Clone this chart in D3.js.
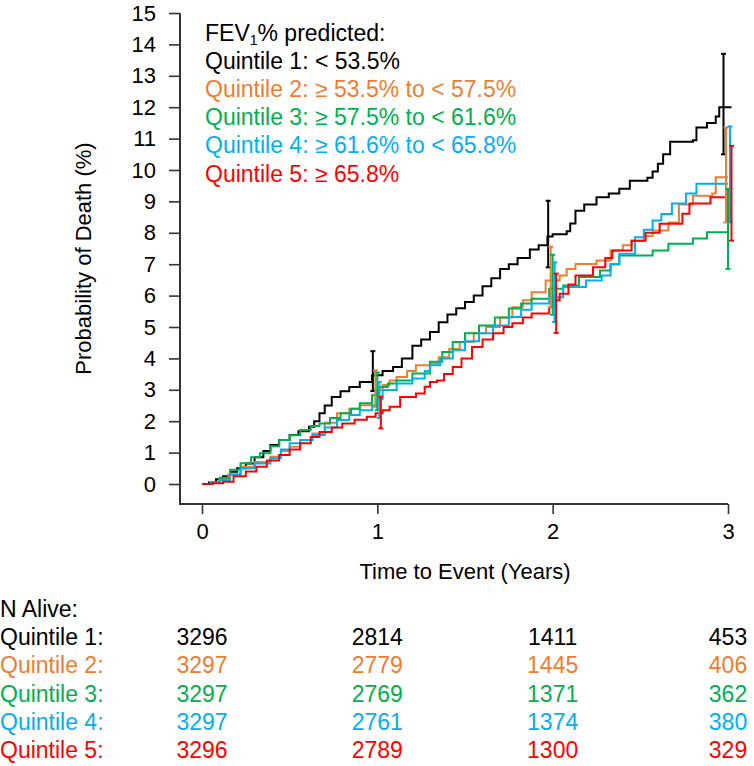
<!DOCTYPE html>
<html>
<head>
<meta charset="utf-8">
<script src="https://cdn.jsdelivr.net/npm/d3@7"></script>
<style>
  body { margin: 0; background: #fff; }
  svg { font-family: "Liberation Sans", Arial, sans-serif; }
</style>
</head>
<body>
<svg id="chart" width="754" height="766"></svg>
<script>
// cumulative probability of death (%) by FEV1 quintile, [years, %]
const q1Curve = [[0,0],[0.04,0.05],[0.08,0.15],[0.12,0.25],[0.16,0.39],[0.2,0.5],[0.25,0.65],[0.3,0.85],[0.35,1.05],[0.39,1.24],[0.44,1.4],[0.5,1.56],[0.55,1.68],[0.61,1.82],[0.64,2.0],[0.67,2.25],[0.7,2.5],[0.74,2.77],[0.79,2.95],[0.84,3.09],[0.9,3.25],[0.97,3.46],[1.03,3.6],[1.09,3.73],[1.14,4.0],[1.2,4.4],[1.25,4.6],[1.3,4.84],[1.35,5.15],[1.4,5.4],[1.45,5.6],[1.5,5.8],[1.55,6.0],[1.6,6.3],[1.65,6.55],[1.7,6.85],[1.75,7.0],[1.8,7.2],[1.87,7.47],[1.92,7.6],[1.97,7.88],[2.0,7.95],[2.08,8.05],[2.1,8.3],[2.13,8.7],[2.18,8.9],[2.25,9.13],[2.32,9.25],[2.38,9.4],[2.44,9.66],[2.54,9.75],[2.57,9.95],[2.6,10.2],[2.63,10.5],[2.67,10.9],[2.8,10.95],[2.82,11.35],[2.88,11.5],[2.93,11.7],[2.95,12.0],[3.02,12.0]];
const q2Curve = [[0,0],[0.05,0.05],[0.1,0.15],[0.15,0.3],[0.22,0.55],[0.3,0.7],[0.39,0.87],[0.45,1.05],[0.5,1.19],[0.56,1.4],[0.63,1.61],[0.7,1.95],[0.77,2.25],[0.84,2.4],[0.9,2.51],[0.97,2.83],[1.0,3.0],[1.03,3.15],[1.07,3.3],[1.11,3.41],[1.17,3.6],[1.22,3.78],[1.3,3.84],[1.35,4.04],[1.41,4.3],[1.47,4.52],[1.55,4.8],[1.62,5.0],[1.7,5.3],[1.77,5.63],[1.83,5.85],[1.88,6.11],[1.96,6.48],[2.04,6.64],[2.08,6.85],[2.13,7.01],[2.25,7.12],[2.33,7.44],[2.4,7.6],[2.45,7.75],[2.52,7.9],[2.57,8.07],[2.66,8.33],[2.72,8.9],[2.8,9.18],[2.91,9.25],[2.93,9.77],[3.0,9.77]];
const q3Curve = [[0,0],[0.05,0.05],[0.1,0.2],[0.16,0.45],[0.22,0.66],[0.28,0.85],[0.33,0.98],[0.39,1.2],[0.44,1.4],[0.5,1.55],[0.56,1.72],[0.62,1.85],[0.67,1.93],[0.73,2.1],[0.79,2.25],[0.85,2.4],[0.9,2.57],[0.97,2.83],[1.01,3.09],[1.06,3.2],[1.11,3.3],[1.2,3.52],[1.3,3.89],[1.37,4.2],[1.43,4.52],[1.5,4.8],[1.58,5.05],[1.67,5.3],[1.75,5.59],[1.82,5.75],[1.88,5.9],[1.98,6.22],[2.06,6.32],[2.15,6.59],[2.27,6.8],[2.33,7.0],[2.38,7.28],[2.57,7.44],[2.66,7.65],[2.8,7.82],[2.88,8.02],[3.0,8.02]];
const q4Curve = [[0,0],[0.05,0.03],[0.1,0.12],[0.16,0.3],[0.22,0.5],[0.3,0.65],[0.39,0.82],[0.45,1.1],[0.5,1.3],[0.56,1.4],[0.63,1.56],[0.7,1.8],[0.77,2.04],[0.84,2.2],[0.9,2.35],[0.97,2.51],[1.0,2.7],[1.03,2.99],[1.11,3.2],[1.2,3.36],[1.27,3.6],[1.3,3.78],[1.36,4.0],[1.43,4.26],[1.5,4.55],[1.58,4.8],[1.66,5.05],[1.75,5.32],[1.82,5.55],[1.88,5.75],[1.98,5.95],[2.06,6.27],[2.19,6.48],[2.28,6.64],[2.33,7.0],[2.38,7.33],[2.47,7.86],[2.52,8.1],[2.57,8.39],[2.62,8.6],[2.68,8.93],[2.76,9.25],[2.82,9.56],[3.0,9.56]];
const q5Curve = [[0,0],[0.06,0.02],[0.12,0.07],[0.18,0.25],[0.25,0.4],[0.31,0.55],[0.37,0.75],[0.44,0.92],[0.5,1.1],[0.56,1.3],[0.62,1.5],[0.67,1.66],[0.74,1.8],[0.8,1.93],[0.87,2.05],[0.94,2.14],[0.99,2.25],[1.03,2.35],[1.07,2.46],[1.13,2.77],[1.22,2.88],[1.27,3.1],[1.3,3.25],[1.34,3.3],[1.38,3.5],[1.43,3.73],[1.48,4.0],[1.54,4.36],[1.6,4.6],[1.66,4.8],[1.72,5.0],[1.77,5.12],[1.83,5.3],[1.88,5.43],[1.98,5.63],[2.0,5.85],[2.04,6.06],[2.09,6.35],[2.13,6.64],[2.23,6.9],[2.3,7.2],[2.34,7.44],[2.45,7.75],[2.53,8.0],[2.61,8.29],[2.74,8.61],[2.78,8.93],[2.9,9.13],[3.0,9.13]];

// 95% CI at 1, 2, 3 years: [low, high]
const q1Ci = [[2.96,4.23],[6.9,9.02],[10.5,13.7]];
const q2Ci = [[2.46,3.62],[5.63,7.56],[8.33,11.35]];
const q3Ci = [[2.35,3.55],[5.39,7.3],[6.85,9.4]];
const q4Ci = [[2.1,3.25],[5.16,7.06],[8.33,11.39]];
const q5Ci = [[1.77,2.78],[4.81,6.7],[7.75,10.77]];
const ciYears = [1, 2, 3];

const quintileLabels = ["Quintile 1: < 53.5%", "Quintile 2: \u2265 53.5% to < 57.5%", "Quintile 3: \u2265 57.5% to < 61.6%", "Quintile 4: \u2265 61.6% to < 65.8%", "Quintile 5: \u2265 65.8%"];
const rowLabels = ["Quintile 1:", "Quintile 2:", "Quintile 3:", "Quintile 4:", "Quintile 5:"];
const tableYears = [0, 1, 2, 3];
const q1Alive = [3296, 2814, 1411, 453];
const q2Alive = [3297, 2779, 1445, 406];
const q3Alive = [3297, 2769, 1371, 362];
const q4Alive = [3297, 2761, 1374, 380];
const q5Alive = [3296, 2789, 1300, 329];

const colors = ["#000000", "#ED7D31", "#00B050", "#00B0F0", "#FF0000"];

const series = [q1Curve, q2Curve, q3Curve, q4Curve, q5Curve].map((curve, i) => ({
  curve,
  ci: [q1Ci, q2Ci, q3Ci, q4Ci, q5Ci][i],
  alive: [q1Alive, q2Alive, q3Alive, q4Alive, q5Alive][i],
  color: colors[i],
  label: quintileLabels[i],
  row: rowLabels[i],
}));

const svg = d3.select("#chart");
const axisColor = "#333";

const x = d3.scaleLinear().domain([0, 3]).range([202, 728]);
const y = d3.scaleLinear().domain([0, 15]).range([484, 13]);
const axisX = 180;
const axisY = 504;

// axes
const yAxis = svg.append("g")
  .attr("transform", `translate(${axisX},0)`)
  .call(d3.axisLeft(y).tickValues(d3.range(0, 16)).tickSize(11).tickPadding(13).tickSizeOuter(0));
yAxis.select(".domain").remove();
yAxis.selectAll("line").attr("stroke", axisColor).attr("stroke-width", 1.6);
yAxis.selectAll("text").attr("font-size", 22).attr("fill", "#000").attr("font-family", null);

const xAxis = svg.append("g")
  .attr("transform", `translate(0,${axisY})`)
  .call(d3.axisBottom(x).tickValues([0, 1, 2, 3]).tickFormat(d3.format("d")).tickSize(10).tickPadding(9).tickSizeOuter(0));
xAxis.select(".domain").remove();
xAxis.selectAll("line").attr("stroke", axisColor).attr("stroke-width", 1.6);
xAxis.selectAll("text").attr("font-size", 22).attr("fill", "#000").attr("font-family", null);

svg.append("path")
  .attr("d", `M${axisX},${y(15)}V${axisY}H${x(3)}`)
  .attr("fill", "none")
  .attr("stroke", axisColor)
  .attr("stroke-width", 2);

svg.append("text")
  .attr("x", (x(0) + x(3)) / 2)
  .attr("y", 579)
  .attr("text-anchor", "middle")
  .attr("font-size", 22)
  .text("Time to Event (Years)");

svg.append("text")
  .attr("transform", `translate(91,${(y(15) + axisY) / 2}) rotate(-90)`)
  .attr("text-anchor", "middle")
  .attr("font-size", 22)
  .text("Probability of Death (%)");

// curves
const line = d3.line()
  .x((d) => x(d[0]))
  .y((d) => y(d[1]))
  .curve(d3.curveStepAfter);

svg.append("g")
  .selectAll("path")
  .data(series)
  .join("path")
  .attr("d", (d) => line(d.curve))
  .attr("fill", "none")
  .attr("stroke", (d) => d.color)
  .attr("stroke-width", 2);

// error bars, nudged apart like the original
const nudge = [-4.5, -2, 0, 2, 3.5];
const capW = 2.5;
const bars = series.flatMap((s, i) =>
  s.ci.map((c, j) => ({ cx: x(ciYears[j]) + nudge[i], lo: c[0], hi: c[1], color: s.color }))
);
const barG = svg.append("g")
  .selectAll("g")
  .data(bars)
  .join("g")
  .attr("stroke", (d) => d.color)
  .attr("stroke-width", 2);
barG.append("line")
  .attr("x1", (d) => d.cx).attr("x2", (d) => d.cx)
  .attr("y1", (d) => y(d.lo)).attr("y2", (d) => y(d.hi));
barG.append("line")
  .attr("x1", (d) => d.cx - capW).attr("x2", (d) => d.cx + capW)
  .attr("y1", (d) => y(d.lo)).attr("y2", (d) => y(d.lo));
barG.append("line")
  .attr("x1", (d) => d.cx - capW).attr("x2", (d) => d.cx + capW)
  .attr("y1", (d) => y(d.hi)).attr("y2", (d) => y(d.hi));

// legend
const legend = svg.append("g").attr("font-size", 23);
const head = legend.append("text").attr("x", 205).attr("y", 41);
head.append("tspan").text("FEV");
head.append("tspan").attr("font-size", 14).attr("dy", 4).text("1");
head.append("tspan").attr("dy", -4).text("% predicted:");
legend.selectAll("text.q")
  .data(series)
  .join("text")
  .attr("class", "q")
  .attr("x", 205)
  .attr("y", (d, i) => 68.5 + i * 28.3)
  .attr("fill", (d) => d.color)
  .text((d) => d.label);

// number at risk table
const table = svg.append("g").attr("font-size", 23);
table.append("text").attr("x", 0).attr("y", 617).text("N Alive:");
const rows = table.selectAll("g.row")
  .data(series)
  .join("g")
  .attr("class", "row")
  .attr("fill", (d) => d.color)
  .attr("transform", (d, i) => `translate(0,${645 + i * 28.3})`);
rows.append("text").attr("x", 0).text((d) => d.row);
rows.selectAll("text.n")
  .data((d) => d.alive)
  .join("text")
  .attr("class", "n")
  .attr("x", (d, j) => x(tableYears[j]))
  .attr("text-anchor", "middle")
  .text((d) => d);
</script>
</body>
</html>
